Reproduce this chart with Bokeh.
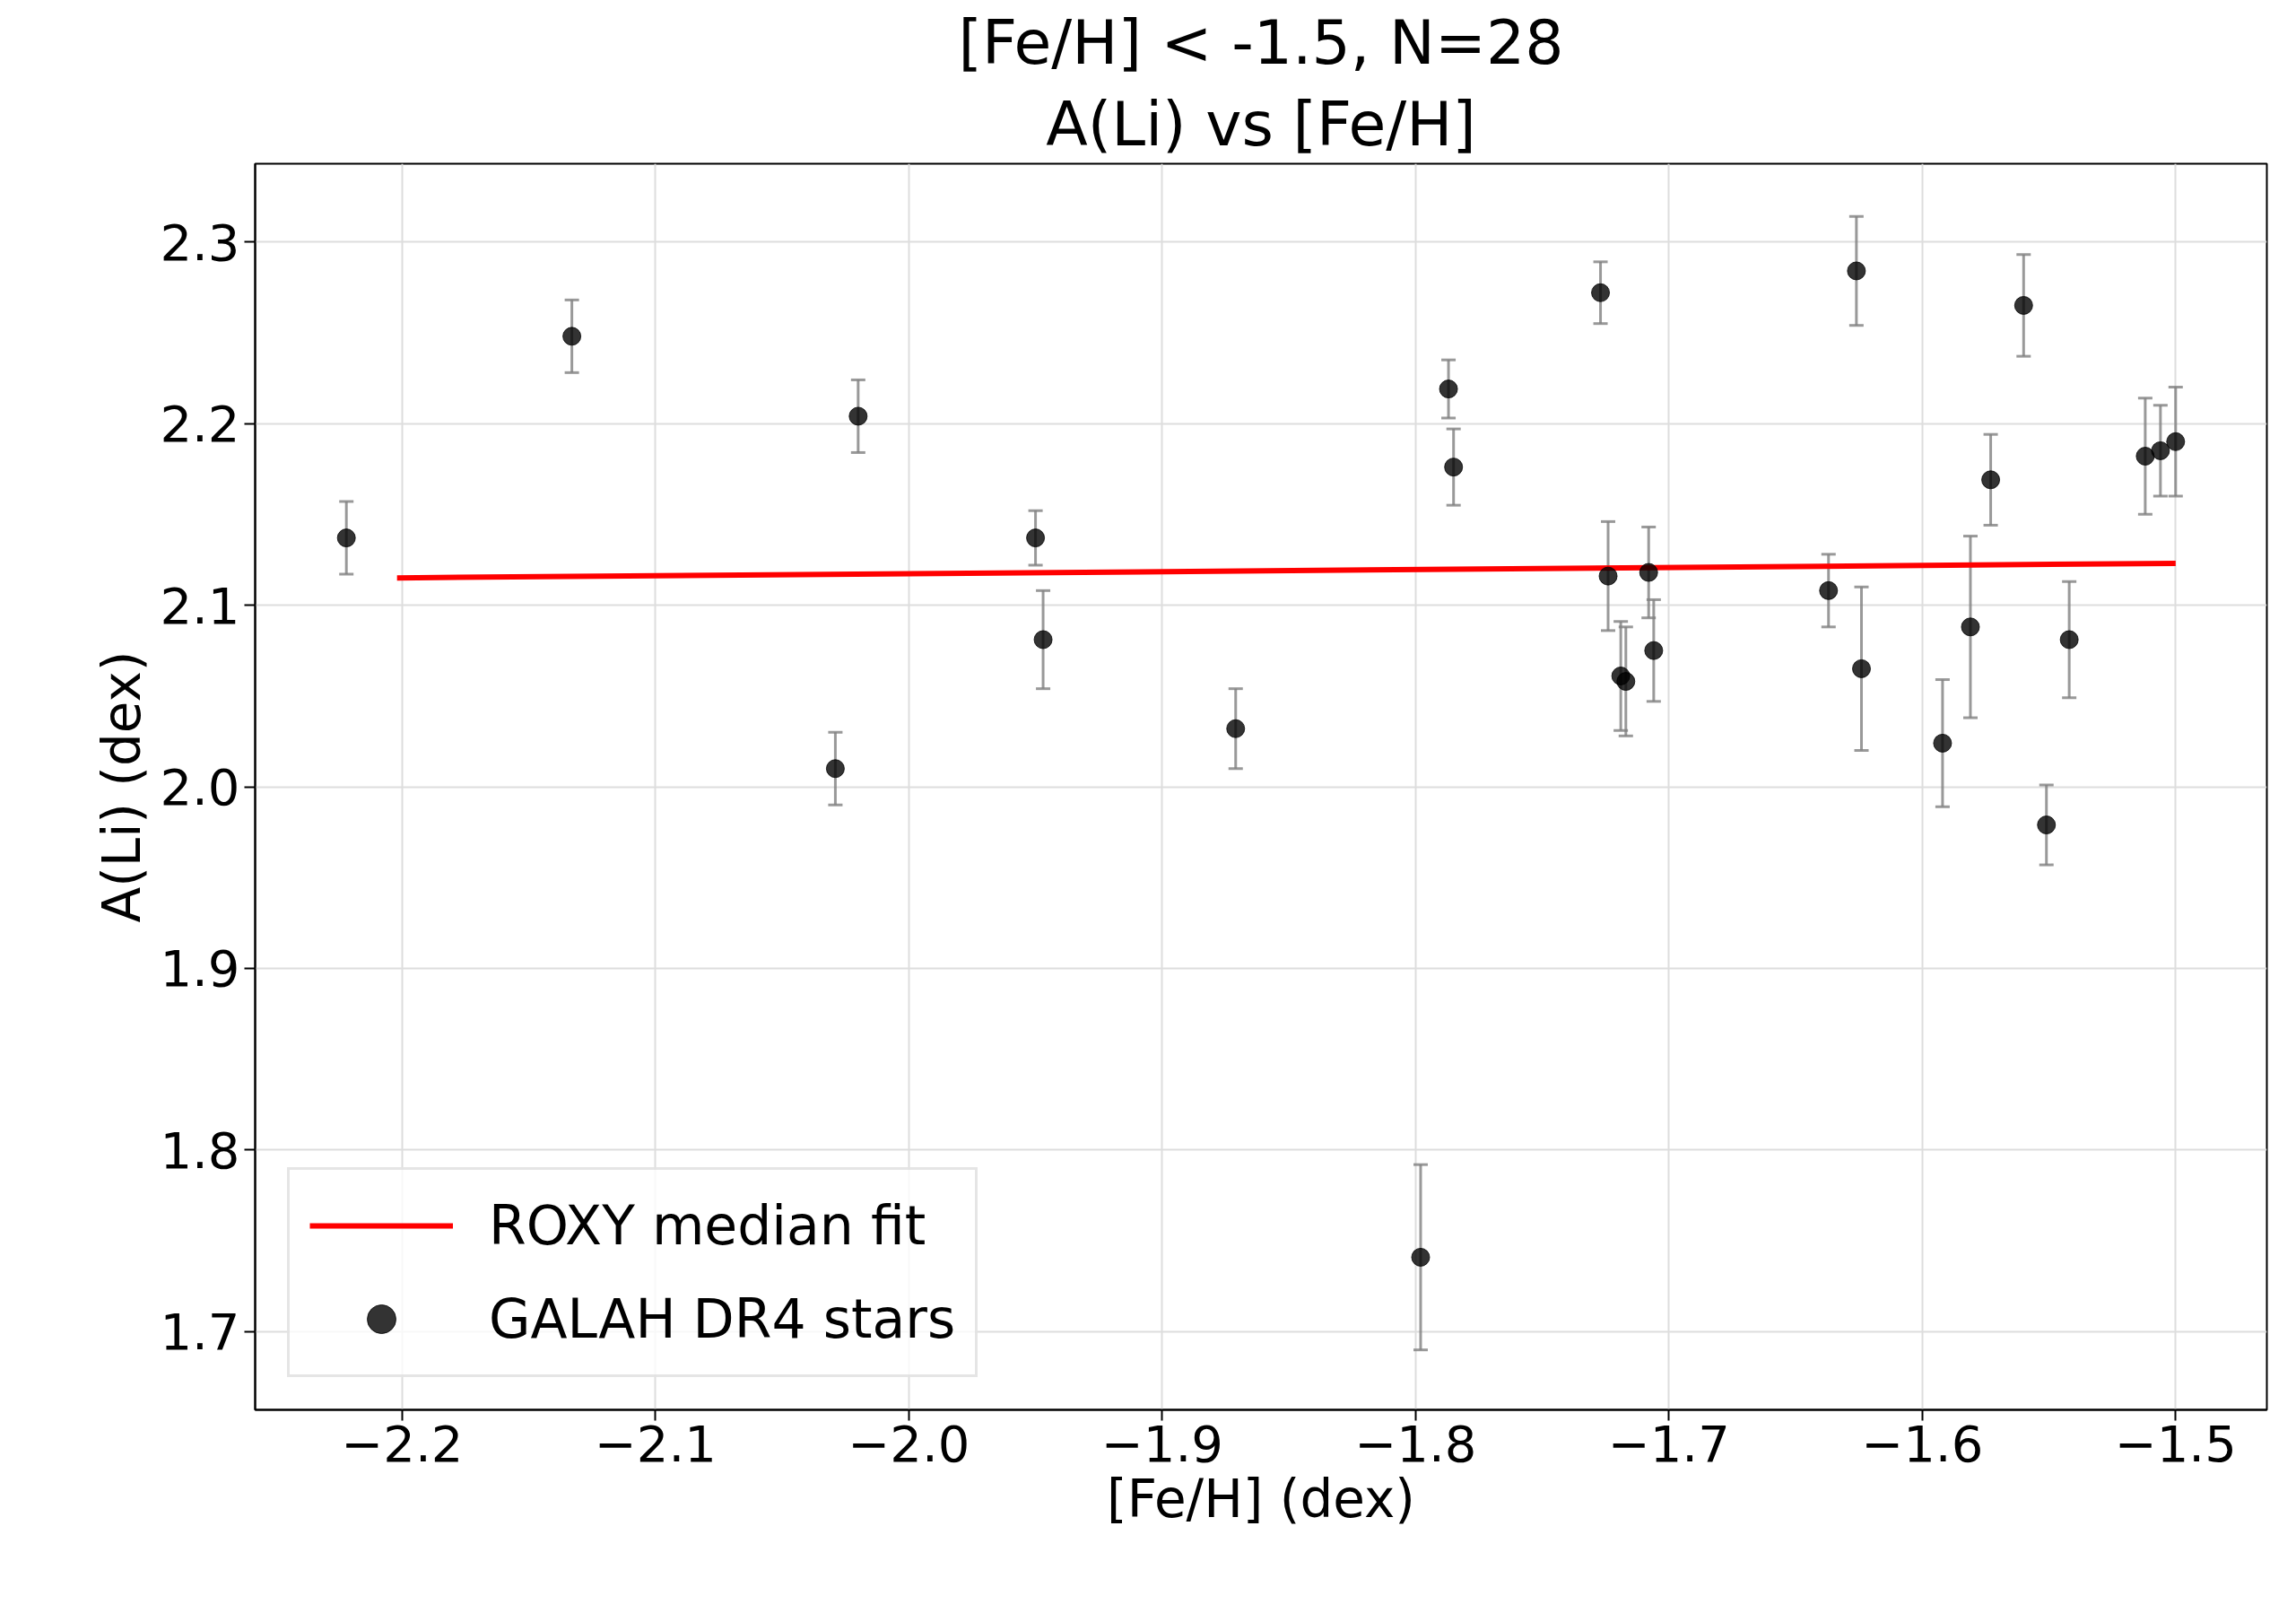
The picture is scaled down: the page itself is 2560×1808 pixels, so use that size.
import numpy as np
from bokeh.plotting import figure
from bokeh.models import ColumnDataSource, Whisker, Legend, LegendItem, Range1d, FixedTicker, TeeHead, Title
from bokeh.embed import file_html
from bokeh.resources import INLINE

feh = [-2.222, -2.133, -2.020, -2.029, -1.950, -1.947, -1.871, -1.798, -1.787, -1.785,
       -1.727, -1.724, -1.719, -1.717, -1.708, -1.706, -1.637, -1.626, -1.624, -1.592,
       -1.581, -1.573, -1.560, -1.551, -1.542, -1.512, -1.506, -1.500]
ali = [2.137, 2.248, 2.204, 2.010, 2.137, 2.081, 2.032, 1.741, 2.219, 2.176,
       2.272, 2.116, 2.061, 2.058, 2.118, 2.075, 2.108, 2.284, 2.065, 2.024,
       2.088, 2.169, 2.265, 1.979, 2.081, 2.182, 2.185, 2.190]
err = [0.020, 0.020, 0.020, 0.020, 0.015, 0.027, 0.022, 0.051, 0.016, 0.021,
       0.017, 0.030, 0.030, 0.030, 0.025, 0.028, 0.020, 0.030, 0.045, 0.035,
       0.050, 0.025, 0.028, 0.022, 0.032, 0.032, 0.025, 0.030]
fit_x = [-2.202, -1.500]
fit_y = [2.115, 2.123]
xticks = [-2.2, -2.1, -2.0, -1.9, -1.8, -1.7, -1.6, -1.5]
yticks = [1.7, 1.8, 1.9, 2.0, 2.1, 2.2, 2.3]

FONT = "DejaVu Sans"
src = ColumnDataSource(dict(x=feh, y=ali, lo=np.array(ali) - np.array(err), hi=np.array(ali) + np.array(err)))

p = figure(width=2544, height=1792, output_backend="svg", toolbar_location=None,
           x_range=Range1d(-2.258, -1.464), y_range=Range1d(1.657, 2.343),
           min_border_left=284, min_border_right=17, min_border_top=20, min_border_bottom=221)
p.title.text = "[Fe/H] < -1.5, N=28"
for t in (p.title,):
    pass
p.title.align = "center"
p.title.text_font = FONT
p.title.text_font_size = "68px"
p.title.text_font_style = "normal"
p.title.text_color = "black"
p.add_layout(Title(text="A(Li) vs [Fe/H]", align="center", text_font=FONT, text_font_size="68px",
                   text_font_style="normal", text_color="black"), "above")
p.outline_line_color = "black"
p.outline_line_width = 2

head = dict(size=16, line_color="gray", line_alpha=0.8, line_width=3)
w = Whisker(source=src, base="x", lower="lo", upper="hi", line_color="gray", line_alpha=0.8,
            line_width=3, upper_head=TeeHead(**head), lower_head=TeeHead(**head))
p.add_layout(w)

ln = p.line(fit_x, fit_y, line_color="red", line_width=6)
sc = p.scatter("x", "y", source=src, size=20, color="black", alpha=0.8)

p.xaxis.ticker = FixedTicker(ticks=xticks)
p.yaxis.ticker = FixedTicker(ticks=yticks)
p.xaxis.major_label_overrides = {t: f"\u2212{abs(t):.1f}" for t in xticks}
p.yaxis.major_label_overrides = {t: f"{t:.1f}" for t in yticks}
for ax in (p.xaxis, p.yaxis):
    ax.major_label_text_font = FONT
    ax.major_label_text_font_size = "56px"
    ax.major_label_text_color = "black"
    ax.axis_label_text_font = FONT
    ax.axis_label_text_font_size = "58px"
    ax.axis_label_text_font_style = "normal"
    ax.axis_label_text_color = "black"
    ax.minor_tick_line_color = None
    ax.major_tick_out = 12
    ax.major_tick_in = 0
    ax.major_tick_line_width = 2
    ax.axis_line_width = 2
p.xaxis.axis_label = "[Fe/H] (dex)"
p.yaxis.axis_label = "A(Li) (dex)"
p.grid.grid_line_color = "#dddddd"
p.grid.grid_line_width = 2

legend = Legend(items=[LegendItem(label="ROXY median fit", renderers=[ln]),
                       LegendItem(label="GALAH DR4 stars", renderers=[sc])],
                location="bottom_left", label_text_font=FONT, label_text_font_size="60px",
                label_text_color="black",
                glyph_width=160, glyph_height=80, label_standoff=40, spacing=24,
                padding=22, margin=36, border_line_color="#cccccc", border_line_width=3,
                background_fill_alpha=0.8)
p.add_layout(legend)

open("out.html", "w").write(file_html(p, INLINE))
